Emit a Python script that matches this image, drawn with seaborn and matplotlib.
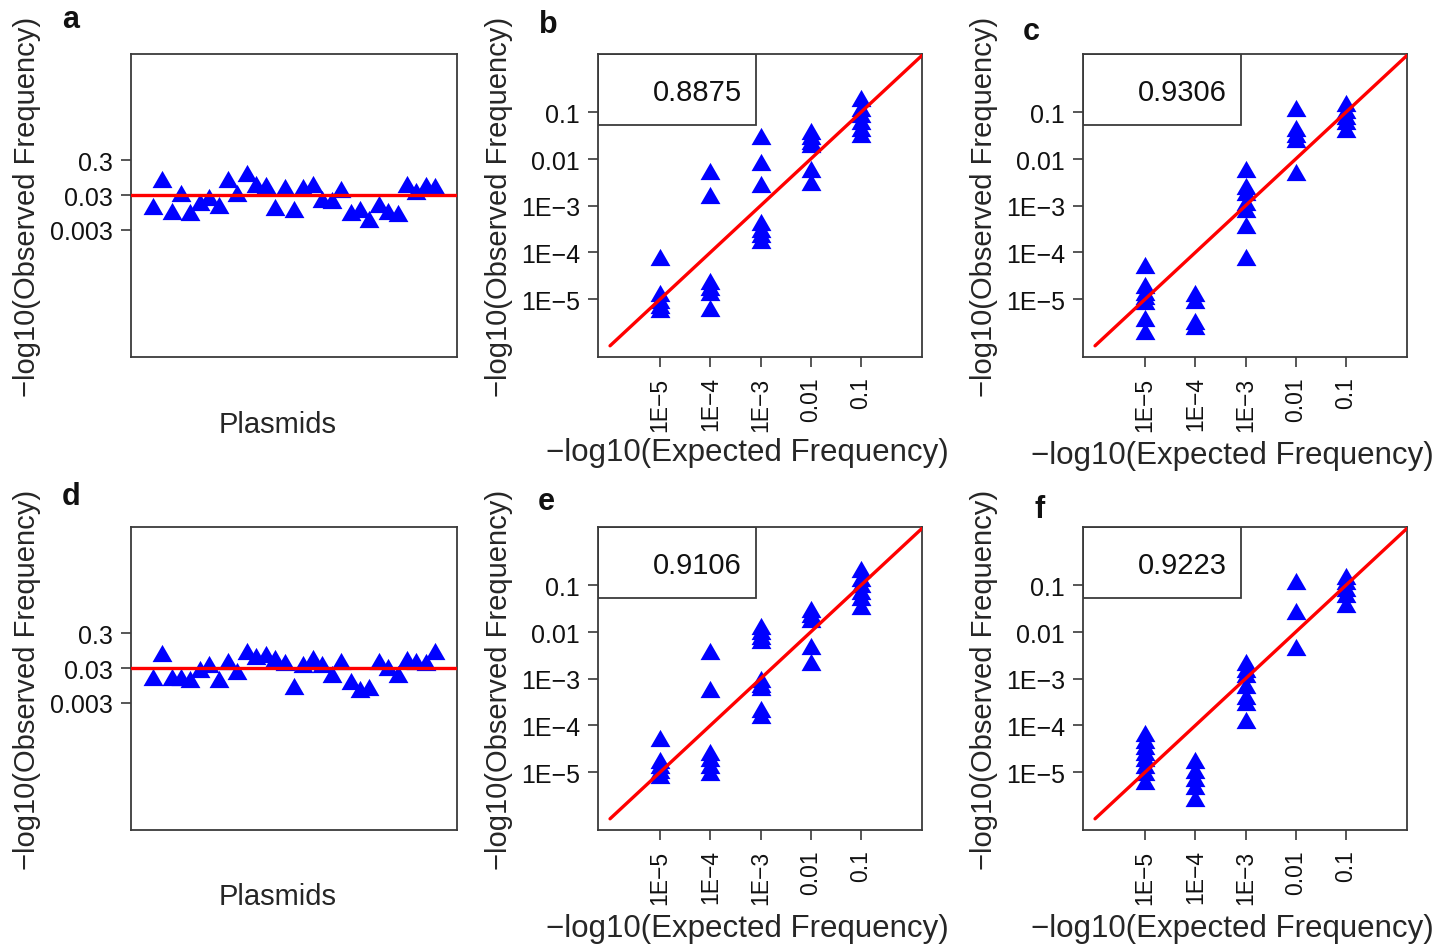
import numpy as np
import pandas as pd
import matplotlib
matplotlib.use("Agg")
import matplotlib.pyplot as plt
from matplotlib.patches import Rectangle
import seaborn as sns

# log10 observed frequency per plasmid (panels a, d)
a_obs = [-1.83, -1.05, -1.97, -1.47, -2.00, -1.73, -1.59, -1.81, -1.07, -1.47, -0.90,
         -1.21, -1.24, -1.87, -1.30, -1.92, -1.29, -1.21, -1.64, -1.66, -1.35, -2.02,
         -1.92, -2.21, -1.78, -1.97, -2.04, -1.21, -1.40, -1.24, -1.26]
d_obs = [-1.79, -1.10, -1.79, -1.79, -1.84, -1.55, -1.41, -1.84, -1.31, -1.60, -1.03,
         -1.17, -1.12, -1.22, -1.36, -2.03, -1.41, -1.22, -1.41, -1.69, -1.31, -1.89,
         -2.12, -2.07, -1.31, -1.50, -1.69, -1.27, -1.31, -1.36, -1.03]
plasmid_target = np.log10(0.03)

# expected frequency groups (log10) and observed values (log10) for each group
expected_log = [-5, -4, -3, -2, -1]
b_obs = [[-4.09, -4.87, -5.01, -5.12, -5.22],
         [-2.25, -2.78, -4.62, -4.73, -4.84, -5.19],
         [-1.50, -2.07, -2.53, -3.35, -3.49, -3.60, -3.74],
         [-1.40, -1.50, -1.61, -1.68, -2.21, -2.50],
         [-0.69, -0.90, -1.04, -1.19, -1.33, -1.47]]
c_obs = [[-4.27, -4.69, -4.84, -4.94, -5.05, -5.40, -5.69],
         [-4.87, -5.01, -5.47, -5.58],
         [-2.21, -2.57, -2.71, -2.92, -3.06, -3.42, -4.09],
         [-0.90, -1.33, -1.47, -1.57, -2.28],
         [-0.79, -0.94, -1.08, -1.19, -1.36]]
e_obs = [[-4.28, -4.74, -4.84, -4.95, -5.06],
         [-2.40, -3.21, -4.56, -4.70, -4.84, -4.99],
         [-1.87, -1.97, -2.08, -2.18, -3.00, -3.11, -3.18, -3.64, -3.78],
         [-1.51, -1.62, -1.72, -2.29, -2.64],
         [-0.66, -0.84, -0.98, -1.12, -1.26, -1.44]]
f_obs = [[-4.17, -4.31, -4.45, -4.56, -4.70, -4.84, -4.99, -5.20],
         [-4.74, -4.95, -5.13, -5.30, -5.55],
         [-2.64, -2.79, -2.89, -3.14, -3.36, -3.50, -3.89],
         [-0.91, -1.55, -2.33],
         [-0.80, -0.91, -1.05, -1.19, -1.40]]
correlations = {"b": "0.8875", "c": "0.9306", "e": "0.9106", "f": "0.9223"}

freq_ticks = [-5, -4, -3, -2, -1]
freq_labels = ["1E\u22125", "1E\u22124", "1E\u22123", "0.01", "0.1"]
plasmid_ticks = [np.log10(0.3), np.log10(0.03), np.log10(0.003)]
plasmid_labels = ["0.3", "0.03", "0.003"]

sns.set_style("white")
plt.rcParams["font.family"] = ["Liberation Sans", "DejaVu Sans"]

W, H = 1448, 945
fig = plt.figure(figsize=(W / 100, H / 100), dpi=100)
frame = "#3a3a3a"
tri = [(-1, -0.866), (1, -0.866), (0, 0.866)]


def px_axes(l, t, r, b):
    return fig.add_axes([l / W, 1 - b / H, (r - l) / W, (b - t) / H])


def style(ax):
    for s in ax.spines.values():
        s.set_visible(True)
        s.set_color(frame)
        s.set_linewidth(1.3)
    ax.tick_params(length=7, width=1.2, color=frame, labelsize=18, pad=6,
                   labelcolor="#111111", direction="out")


def plasmid_panel(ax, obs, label_y):
    df = pd.DataFrame({"plasmid": np.arange(1, len(obs) + 1), "obs": obs})
    sns.scatterplot(data=df, x="plasmid", y="obs", ax=ax, marker=tri, s=205,
                    color="#0000ff", linewidth=0, zorder=2)
    ax.axhline(plasmid_target, color="#ff0000", lw=2.4, zorder=3)
    ax.set_xlim(-1.3, 33.3)
    ax.set_ylim(-6.19, 2.54)
    ax.set_xticks([])
    ax.set_yticks(plasmid_ticks)
    ax.set_yticklabels(plasmid_labels)
    style(ax)
    ax.tick_params(axis="y", left=True)
    ax.set_xlabel("Plasmids", fontsize=21, va="center")
    ax.xaxis.set_label_coords(0.451, label_y)
    ax.set_ylabel("\u2212log10(Observed Frequency)", fontsize=21, va="center")
    ax.yaxis.set_label_coords(-0.319, 0.5)


def freq_panel(ax, obs, r_text, label_y):
    rows = [(e, v) for e, vals in zip(expected_log, obs) for v in vals]
    df = pd.DataFrame(rows, columns=["expected", "observed"])
    sns.scatterplot(data=df, x="expected", y="observed", ax=ax, marker=tri, s=205,
                    color="#0000ff", linewidth=0, zorder=2)
    ax.plot([-6, 1], [-6, 1], color="#ff0000", lw=2.4, zorder=3)
    ax.set_xlim(-6.24, 0.22)
    ax.set_ylim(-6.24, 0.25)
    ax.set_xticks(freq_ticks)
    ax.set_xticklabels(freq_labels, rotation=90)
    ax.set_yticks(freq_ticks[::-1])
    ax.set_yticklabels(freq_labels[::-1])
    style(ax)
    ax.tick_params(axis="x", bottom=True, pad=7, labelsize=16.5)
    ax.tick_params(axis="y", left=True)
    ax.add_patch(Rectangle((0, 0.766), 0.488, 0.234, transform=ax.transAxes,
                           fill=False, edgecolor=frame, lw=1.3, zorder=4))
    ax.text(0.444, 0.876, r_text, transform=ax.transAxes, ha="right", va="center",
            fontsize=21, color="#111111")
    ax.set_xlabel("\u2212log10(Expected Frequency)", fontsize=22.5, va="center")
    ax.xaxis.set_label_coords(0.46, label_y)
    ax.set_ylabel("\u2212log10(Observed Frequency)", fontsize=21, va="center")
    ax.yaxis.set_label_coords(-0.306, 0.5)


ax_a = px_axes(131, 55, 457, 358)
ax_b = px_axes(598, 55, 922, 358)
ax_c = px_axes(1083, 55, 1407, 358)
ax_d = px_axes(131, 528, 457, 831)
ax_e = px_axes(598, 528, 922, 831)
ax_f = px_axes(1083, 528, 1407, 831)

plasmid_panel(ax_a, a_obs, -0.221)
plasmid_panel(ax_d, d_obs, -0.218)
freq_panel(ax_b, b_obs, correlations["b"], -0.315)
freq_panel(ax_c, c_obs, correlations["c"], -0.325)
freq_panel(ax_e, e_obs, correlations["e"], -0.322)
freq_panel(ax_f, f_obs, correlations["f"], -0.322)

letters = {"a": (71, 20), "b": (548, 25), "c": (1031, 32),
           "d": (71, 497), "e": (546, 502), "f": (1040, 510)}
for k, (x, y) in letters.items():
    fig.text(x / W, 1 - y / H, k, fontsize=22, fontweight="bold",
             ha="center", va="center", color="#111111")

fig.savefig("out.png", dpi=100)
